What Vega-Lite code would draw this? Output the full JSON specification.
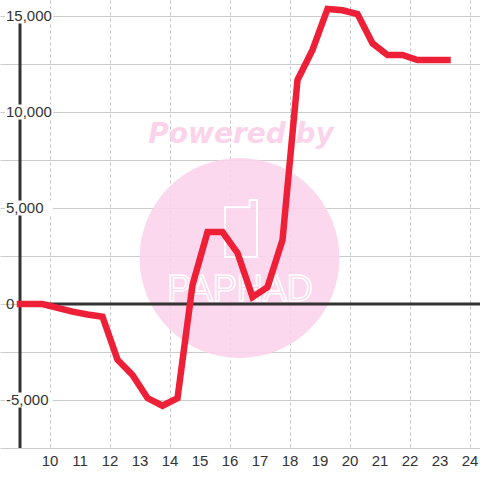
{
  "$schema": "https://vega.github.io/schema/vega-lite/v6.json",
  "width": 480,
  "height": 448,
  "autosize": {"type": "none"},
  "padding": {"left": 0, "top": 0, "right": 0, "bottom": 32},
  "background": "white",
  "config": {"view": {"stroke": null}, "axis": {"labelOverlap": false, "labelSeparation": 0}},
  "datasets": {
    "series": [
      {"t": 9.0, "v": 0},
      {"t": 9.75, "v": 0},
      {"t": 10.25, "v": -200},
      {"t": 10.75, "v": -400},
      {"t": 11.25, "v": -550},
      {"t": 11.75, "v": -660},
      {"t": 12.25, "v": -2900},
      {"t": 12.75, "v": -3700},
      {"t": 13.25, "v": -4900},
      {"t": 13.75, "v": -5300},
      {"t": 14.25, "v": -4900},
      {"t": 14.75, "v": 990},
      {"t": 15.25, "v": 3750},
      {"t": 15.75, "v": 3750},
      {"t": 16.25, "v": 2660},
      {"t": 16.75, "v": 370},
      {"t": 17.25, "v": 880},
      {"t": 17.75, "v": 3330},
      {"t": 18.25, "v": 11670},
      {"t": 18.75, "v": 13230},
      {"t": 19.25, "v": 15370},
      {"t": 19.75, "v": 15300},
      {"t": 20.25, "v": 15100},
      {"t": 20.75, "v": 13580},
      {"t": 21.25, "v": 12970},
      {"t": 21.75, "v": 12970},
      {"t": 22.25, "v": 12710},
      {"t": 22.75, "v": 12710},
      {"t": 23.25, "v": 12710}
    ],
    "ylabels": [
      {"v": -5000, "label": "-5,000"},
      {"v": 0, "label": "0"},
      {"v": 5000, "label": "5,000"},
      {"v": 10000, "label": "10,000"},
      {"v": 15000, "label": "15,000"}
    ],
    "xlabels": [
      {"t": 10, "label": "10"}, {"t": 11, "label": "11"}, {"t": 12, "label": "12"},
      {"t": 13, "label": "13"}, {"t": 14, "label": "14"}, {"t": 15, "label": "15"},
      {"t": 16, "label": "16"}, {"t": 17, "label": "17"}, {"t": 18, "label": "18"},
      {"t": 19, "label": "19"}, {"t": 20, "label": "20"}, {"t": 21, "label": "21"},
      {"t": 22, "label": "22"}, {"t": 23, "label": "23"}, {"t": 24, "label": "24"}
    ]
  },
  "layer": [
    {
      "data": {"name": "series"},
      "mark": {"type": "line", "opacity": 0, "strokeWidth": 0},
      "encoding": {
        "x": {
          "field": "t", "type": "quantitative",
          "scale": {"domain": [8.3333, 24.3333], "nice": false, "zero": false},
          "axis": {
            "title": null, "orient": "bottom",
            "values": [10, 11, 12, 13, 14, 15, 16, 17, 18, 19, 20, 21, 22, 23, 24],
            "labels": false,
            "domain": true, "domainColor": "#cccccc", "domainWidth": 1,
            "ticks": false, "tickSize": 0,
            "grid": true, "gridColor": "#c4c4c4", "gridDash": [3, 3], "gridWidth": 1,
            "zindex": 0
          }
        },
        "y": {
          "field": "v", "type": "quantitative",
          "scale": {"domain": [-7500, 15833.33], "nice": false, "zero": false},
          "axis": {
            "title": null, "orient": "left",
            "values": [-5000, -2500, 0, 2500, 5000, 7500, 10000, 12500, 15000],
            "labels": false,
            "domain": false, "ticks": false, "tickSize": 0,
            "grid": true, "gridColor": "#cccccc", "gridWidth": 1,
            "zindex": 0
          }
        }
      }
    },
    {
      "data": {"values": [{}]},
      "mark": {"type": "point", "shape": "circle", "filled": true, "size": 40000, "color": "#fbd3ea", "opacity": 0.88},
      "encoding": {
        "x": {"datum": 16.317, "type": "quantitative"},
        "y": {"datum": 2396, "type": "quantitative"}
      }
    },
    {
      "data": {"values": [{}]},
      "mark": {"type": "text", "text": "Powered by", "font": "DejaVu Sans", "fontWeight": "bold", "fontStyle": "italic", "fontSize": 28, "align": "center", "baseline": "alphabetic", "color": "#fbd3ea"},
      "encoding": {
        "x": {"datum": 16.367, "type": "quantitative"},
        "y": {"datum": 8385, "type": "quantitative"}
      }
    },
    {
      "data": {"values": [{}]},
      "mark": {"type": "point", "shape": "M-0.56,-0.75H0.3V-1H0.56V1H-0.56Z", "filled": false, "size": 3249, "stroke": "white", "strokeWidth": 2, "opacity": 1},
      "encoding": {
        "x": {"datum": 16.367, "type": "quantitative"},
        "y": {"datum": 3932, "type": "quantitative"}
      }
    },
    {
      "data": {"values": [{}]},
      "mark": {"type": "text", "text": "PAPHAD", "font": "Liberation Sans", "fontSize": 36, "align": "center", "baseline": "middle", "fill": "transparent", "stroke": "white", "strokeWidth": 1.5},
      "encoding": {
        "x": {"datum": 16.333, "type": "quantitative"},
        "y": {"datum": 729, "type": "quantitative"}
      }
    },
    {
      "data": {"values": [{}]},
      "mark": {"type": "rule", "color": "#333333", "strokeWidth": 3},
      "encoding": {
        "x": {"datum": 9, "type": "quantitative"},
        "x2": {"datum": 24.3333},
        "y": {"datum": 0, "type": "quantitative"}
      }
    },
    {
      "data": {"values": [{}]},
      "mark": {"type": "rule", "color": "#333333", "strokeWidth": 3},
      "encoding": {
        "x": {"datum": 9, "type": "quantitative"},
        "y": {"datum": 15000, "type": "quantitative"},
        "y2": {"datum": -7500}
      }
    },
    {
      "data": {"name": "ylabels"},
      "transform": [{"filter": "datum.v !== 0"}],
      "mark": {"type": "tick", "orient": "horizontal", "size": 48, "thickness": 15, "color": "white", "opacity": 1},
      "encoding": {
        "x": {"datum": 9.3, "type": "quantitative"},
        "y": {"field": "v", "type": "quantitative"}
      }
    },
    {
      "data": {"name": "ylabels"},
      "mark": {"type": "text", "font": "Liberation Sans", "fontSize": 15, "align": "left", "baseline": "middle", "color": "#333333"},
      "encoding": {
        "x": {"datum": 8.5333, "type": "quantitative"},
        "y": {"field": "v", "type": "quantitative"},
        "text": {"field": "label"}
      }
    },
    {
      "data": {"name": "xlabels"},
      "mark": {"type": "text", "font": "Liberation Sans", "fontSize": 15, "align": "center", "baseline": "middle", "color": "#333333", "clip": false},
      "encoding": {
        "x": {"field": "t", "type": "quantitative"},
        "y": {"datum": -8180, "type": "quantitative"},
        "text": {"field": "label"}
      }
    },
    {
      "data": {"name": "series"},
      "mark": {"type": "line", "color": "#ee2038", "strokeWidth": 6.5, "strokeCap": "square", "strokeJoin": "miter", "clip": true},
      "encoding": {
        "x": {"field": "t", "type": "quantitative"},
        "y": {"field": "v", "type": "quantitative"}
      }
    }
  ]
}
